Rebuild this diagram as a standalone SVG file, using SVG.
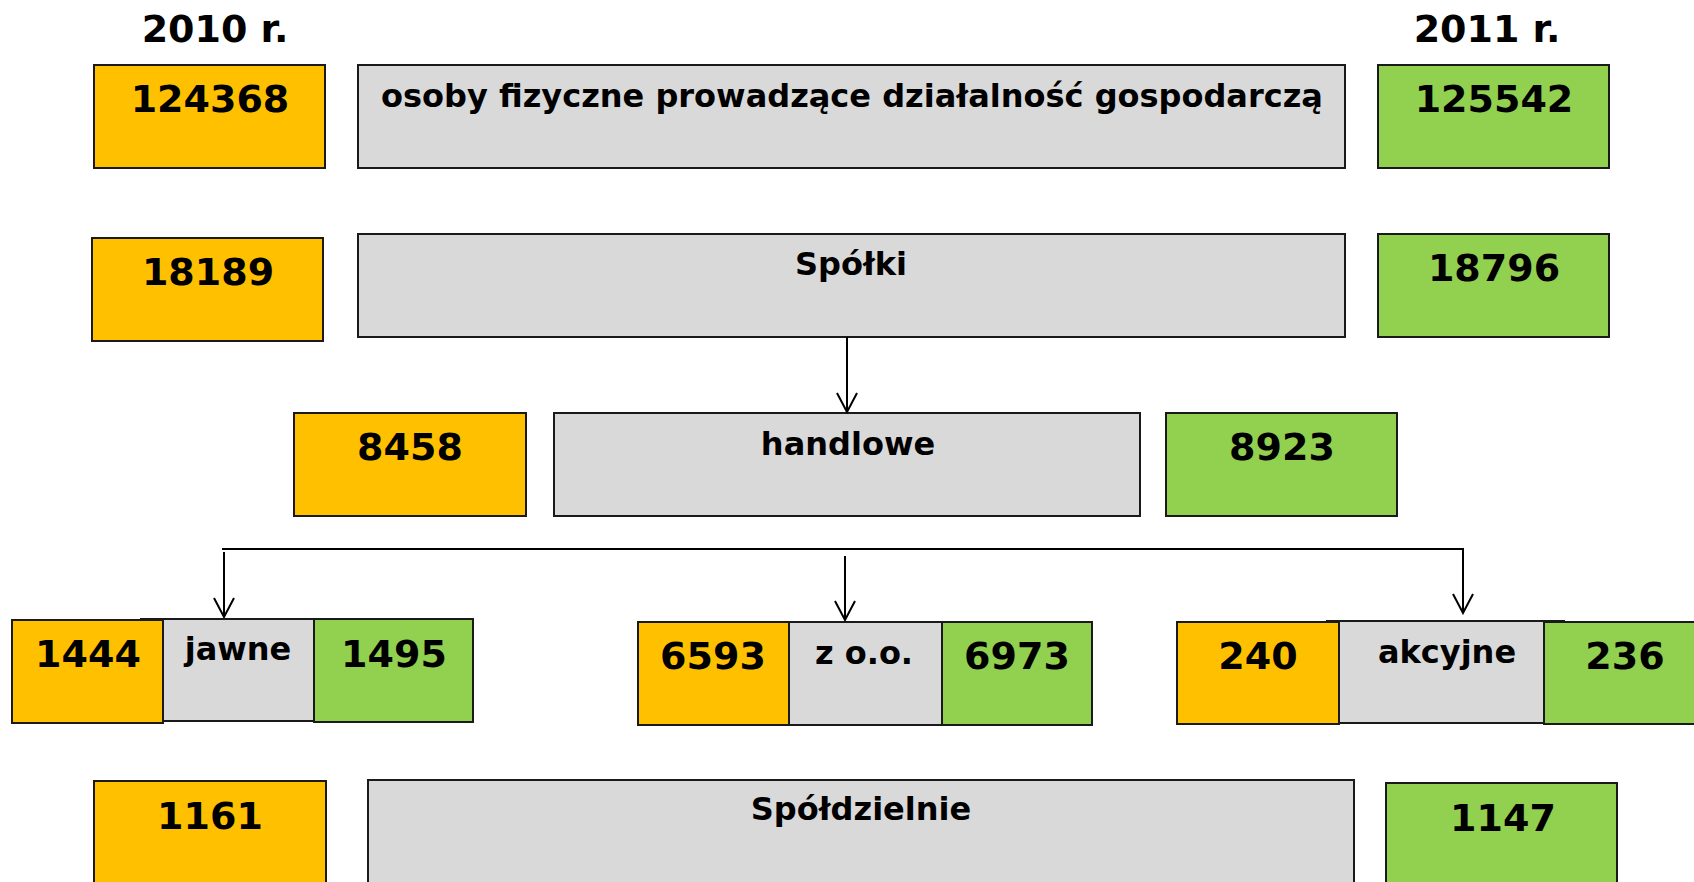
<svg xmlns="http://www.w3.org/2000/svg" width="1694" height="882" viewBox="0 0 1694 882">
<defs>
<style>
.o{fill:#FFC000;stroke:#1a1a1a;stroke-width:2}
.g{fill:#92D050;stroke:#1a1a1a;stroke-width:2}
.d{fill:#D9D9D9;stroke:#1a1a1a;stroke-width:2}
.n{font-family:"DejaVu Sans",Verdana,sans-serif;font-weight:bold;font-size:38px;fill:#000;text-anchor:middle}
.l{font-family:"DejaVu Sans",Verdana,sans-serif;font-weight:bold;font-size:32px;fill:#000;text-anchor:middle}
.c{fill:none;stroke:#000;stroke-width:2}
</style>
<marker id="arr" markerWidth="22" markerHeight="24" refX="20" refY="11" orient="auto" markerUnits="userSpaceOnUse" viewBox="0 0 22 24">
<path d="M1,1 L20,11 L1,21" fill="none" stroke="#000" stroke-width="2"/>
</marker>
</defs>
<rect width="1694" height="882" fill="#fff"/>
<text class="n" x="215" y="42">2010 r.</text>
<text class="n" x="1487" y="42">2011 r.</text>

<g id="row1">
<rect class="o" x="94" y="65" width="231" height="103"/>
<text class="n" x="210" y="112">124368</text>
<rect class="d" x="358" y="65" width="987" height="103"/>
<text class="l" x="852" y="107">osoby fizyczne prowadzące działalność gospodarczą</text>
<rect class="g" x="1378" y="65" width="231" height="103"/>
<text class="n" x="1494" y="112">125542</text>
</g>

<g id="row2">
<rect class="o" x="92" y="238" width="231" height="103"/>
<text class="n" x="208" y="285">18189</text>
<rect class="d" x="358" y="234" width="987" height="103"/>
<text class="l" x="851" y="275">Spółki</text>
<rect class="g" x="1378" y="234" width="231" height="103"/>
<text class="n" x="1494" y="281">18796</text>
</g>

<g id="handlowe">
<rect class="o" x="294" y="413" width="232" height="103"/>
<text class="n" x="410" y="460">8458</text>
<rect class="d" x="554" y="413" width="586" height="103"/>
<text class="l" x="848" y="455">handlowe</text>
<rect class="g" x="1166" y="413" width="231" height="103"/>
<text class="n" x="1282" y="460">8923</text>
</g>

<g id="jawne">
<rect class="d" x="141" y="619" width="194" height="102"/>
<rect class="o" x="12" y="620" width="151" height="103"/>
<rect class="g" x="314" y="619" width="159" height="103"/>
<text class="n" x="88" y="667">1444</text>
<text class="l" x="238" y="660">jawne</text>
<text class="n" x="394" y="667">1495</text>
</g>

<g id="zoo">
<rect class="d" x="767" y="622" width="195" height="103"/>
<rect class="o" x="638" y="622" width="151" height="103"/>
<rect class="g" x="942" y="622" width="150" height="103"/>
<text class="n" x="713" y="669">6593</text>
<text class="l" x="864" y="664">z o.o.</text>
<text class="n" x="1017" y="669">6973</text>
</g>

<g id="akcyjne">
<rect class="d" x="1327" y="621" width="237" height="102"/>
<rect class="o" x="1177" y="622" width="162" height="102"/>
<rect class="g" x="1544" y="622" width="161" height="102"/>
<text class="n" x="1258" y="669">240</text>
<text class="l" x="1447" y="663">akcyjne</text>
<text class="n" x="1625" y="669">236</text>
</g>

<g id="spoldzielnie">
<rect class="o" x="94" y="781" width="232" height="120"/>
<text class="n" x="210" y="829">1161</text>
<rect class="d" x="368" y="780" width="986" height="120"/>
<text class="l" x="861" y="820">Spółdzielnie</text>
<rect class="g" x="1386" y="783" width="231" height="120"/>
<text class="n" x="1503" y="831">1147</text>
</g>

<g id="connectors">
<line class="c" x1="847" y1="337" x2="847" y2="412" marker-end="url(#arr)"/>
<path class="c" d="M222,549 H1463 V613" marker-end="url(#arr)"/>
<line class="c" x1="224" y1="552" x2="224" y2="617" marker-end="url(#arr)"/>
<line class="c" x1="845" y1="556" x2="845" y2="620" marker-end="url(#arr)"/>
</g>
</svg>
